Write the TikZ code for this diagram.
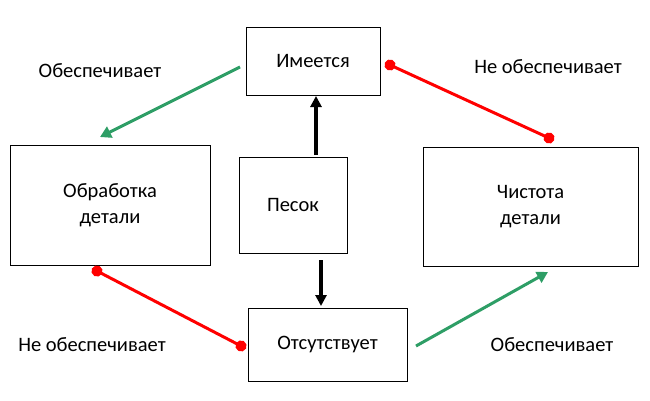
\documentclass[tikz,border=0pt]{standalone}
\usepackage{fontspec}
\setmainfont{Carlito}
\usetikzlibrary{arrows.meta}
\definecolor{yesgreen}{HTML}{2E9E66}
\definecolor{nored}{HTML}{FF0000}

\begin{document}
\begin{tikzpicture}[
    x=1pt, y=-1pt,
    box/.style={draw, line width=0.8pt, align=center, font=\fontsize{20.5}{26.5}\selectfont, inner sep=0pt},
    lbl/.style={font=\fontsize{20.5}{24}\selectfont},
    yes/.style={yesgreen, line width=3pt, -{Triangle[length=11pt, width=12pt]}},
    no/.style={nored, line width=3pt, {Circle[length=11pt]}-{Circle[length=11pt]}},
    link/.style={black, line width=3.2pt, -{Triangle[length=11pt, width=11pt]}},
]
    \useasboundingbox (0,0) rectangle (650,400);

    \node[box, minimum width=134, minimum height=68] (has) at (313,61) {Имеется};
    \node[box, minimum width=200, minimum height=120] (work) at (110,205) {Обработка\\детали};
    \node[box, minimum width=108, minimum height=96] (sand) at (293,205) {Песок};
    \node[box, minimum width=215, minimum height=119] (clean) at (530.5,206.5) {Чистота\\детали};
    \node[box, minimum width=159, minimum height=73] (none) at (327.5,344.5) {Отсутствует};

    \node[lbl] (l1) at (100,71) {Обеспечивает};
    \node[lbl] (l2) at (548,67) {Не обеспечивает};
    \node[lbl] (l3) at (92,345) {Не обеспечивает};
    \node[lbl] (l4) at (552,345) {Обеспечивает};

    % free ends of the connectors
    \coordinate (g1a) at (240,67);
    \coordinate (g1b) at (100,137);
    \coordinate (r1a) at (385,62.7);
    \coordinate (r1b) at (554,140.3);
    \coordinate (r2a) at (92.1,268.5);
    \coordinate (r2b) at (245.9,348.5);
    \coordinate (g2a) at (416,346);
    \coordinate (g2b) at (548,272);
    \coordinate (upa) at (316,155);
    \coordinate (upb) at (316,96);
    \coordinate (dna) at (321,260);
    \coordinate (dnb) at (321,306);

    \draw[yes] (g1a) -- (g1b);
    \draw[yes] (g2a) -- (g2b);
    \draw[no] (r1a) -- (r1b);
    \draw[no] (r2a) -- (r2b);
    \draw[link] (upa) -- (upb);
    \draw[link] (dna) -- (dnb);
\end{tikzpicture}
\end{document}
